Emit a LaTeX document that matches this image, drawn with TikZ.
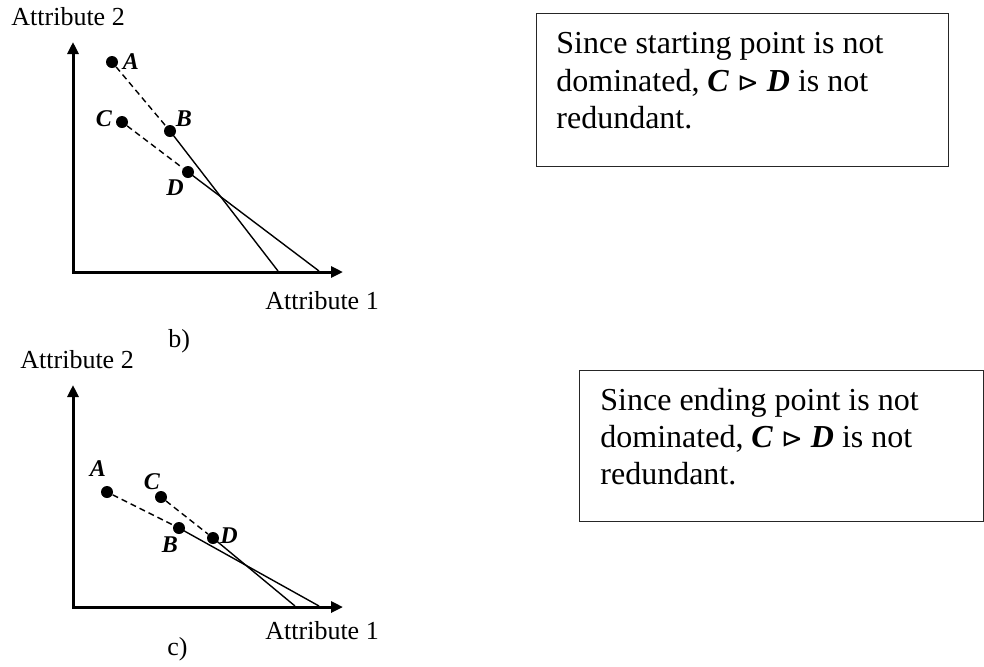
\documentclass[tikz,border=0pt]{standalone}
\usepackage{fontspec}
\setmainfont{Liberation Serif}
\newfontfamily\symfnt{DejaVu Sans}
\usetikzlibrary{arrows.meta}
\tikzset{
  axis/.style={line width=1.5pt, line join=miter, {Triangle[length=6pt,width=5.5pt]}-{Triangle[length=6pt,width=5.5pt]}},
  dot/.style={circle, fill=black, inner sep=0pt, minimum size=6pt},
  ptlabel/.style={font=\fontsize{12}{14}\selectfont\bfseries\itshape, inner sep=0pt},
  axlabel/.style={font=\fontsize{13}{15}\selectfont, anchor=base west, inner sep=0pt},
  boxline/.style={font=\fontsize{16}{19}\selectfont, anchor=base west, inner sep=0pt},
  dashline/.style={line width=0.7pt, dash pattern=on 3pt off 2pt},
  solidline/.style={line width=0.7pt},
  infobox/.style={draw=black!85, line width=0.6pt, anchor=north west, inner sep=0pt}
}
\newcommand{\relCD}{\textbf{\textit{C}} {\symfnt\fontsize{13}{15}\selectfont ⊳} \textbf{\textit{D}}}
\begin{document}
\begin{tikzpicture}[x=0.5pt, y=-0.5pt]
\useasboundingbox (0,0) rectangle (984,666);

% ---------- panel b ----------
\node[axlabel] (bY) at (11,25) {Attribute 2};
\coordinate (bTop) at (73,42);
\coordinate (bO) at (73,272);
\coordinate (bRight) at (343,272);
\draw[axis] (bTop) -- (bO) -- (bRight);
\node[axlabel] (bX) at (265,309) {Attribute 1};
\node[axlabel] (bCap) at (168,347) {b)};

\node[dot] (bA) at (112,62) {};
\node[dot] (bB) at (170,131) {};
\node[dot] (bC) at (122,122) {};
\node[dot] (bD) at (188,172) {};
\coordinate (bBE) at (278,271);
\coordinate (bDE) at (319,271);
\draw[dashline] (bA) -- (bB);
\draw[dashline] (bC) -- (bD);
\draw[solidline] (bB.center) -- (bBE);
\draw[solidline] (bD.center) -- (bDE);
\node[ptlabel] (bLA) at (131,62) {A};
\node[ptlabel] (bLC) at (104,119) {C};
\node[ptlabel] (bLB) at (184,119) {B};
\node[ptlabel] (bLD) at (175,188) {D};

% ---------- panel c ----------
\node[axlabel] (cY) at (20,368) {Attribute 2};
\coordinate (cTop) at (73,385);
\coordinate (cO) at (73,607);
\coordinate (cRight) at (343,607);
\draw[axis] (cTop) -- (cO) -- (cRight);
\node[axlabel] (cX) at (265,639) {Attribute 1};
\node[axlabel] (cCap) at (167,655) {c)};

\node[dot] (cA) at (107,492) {};
\node[dot] (cB) at (179,528) {};
\node[dot] (cC) at (161,497) {};
\node[dot] (cD) at (213,538) {};
\coordinate (cBE) at (319,606);
\coordinate (cDE) at (295,606);
\draw[dashline] (cA) -- (cB);
\draw[dashline] (cC) -- (cD);
\draw[solidline] (cB.center) -- (cBE);
\draw[solidline] (cD.center) -- (cDE);
\node[ptlabel] (cLA) at (98,469) {A};
\node[ptlabel] (cLC) at (152,482) {C};
\node[ptlabel] (cLB) at (170,545) {B};
\node[ptlabel] (cLD) at (229,536) {D};

% ---------- text boxes ----------
\node[infobox, minimum width=206pt, minimum height=76.5pt] (box1) at (536,13) {};
\node[boxline] (t1a) at (556,53) {Since starting point is not};
\node[boxline] (t1b) at (556,91) {dominated, \relCD{} is not};
\node[boxline] (t1c) at (556,128) {redundant.};

\node[infobox, minimum width=202pt, minimum height=75.5pt] (box2) at (579,370) {};
\node[boxline] (t2a) at (600,410) {Since ending point is not};
\node[boxline] (t2b) at (600,447) {dominated, \relCD{} is not};
\node[boxline] (t2c) at (600,484) {redundant.};
\end{tikzpicture}
\end{document}
